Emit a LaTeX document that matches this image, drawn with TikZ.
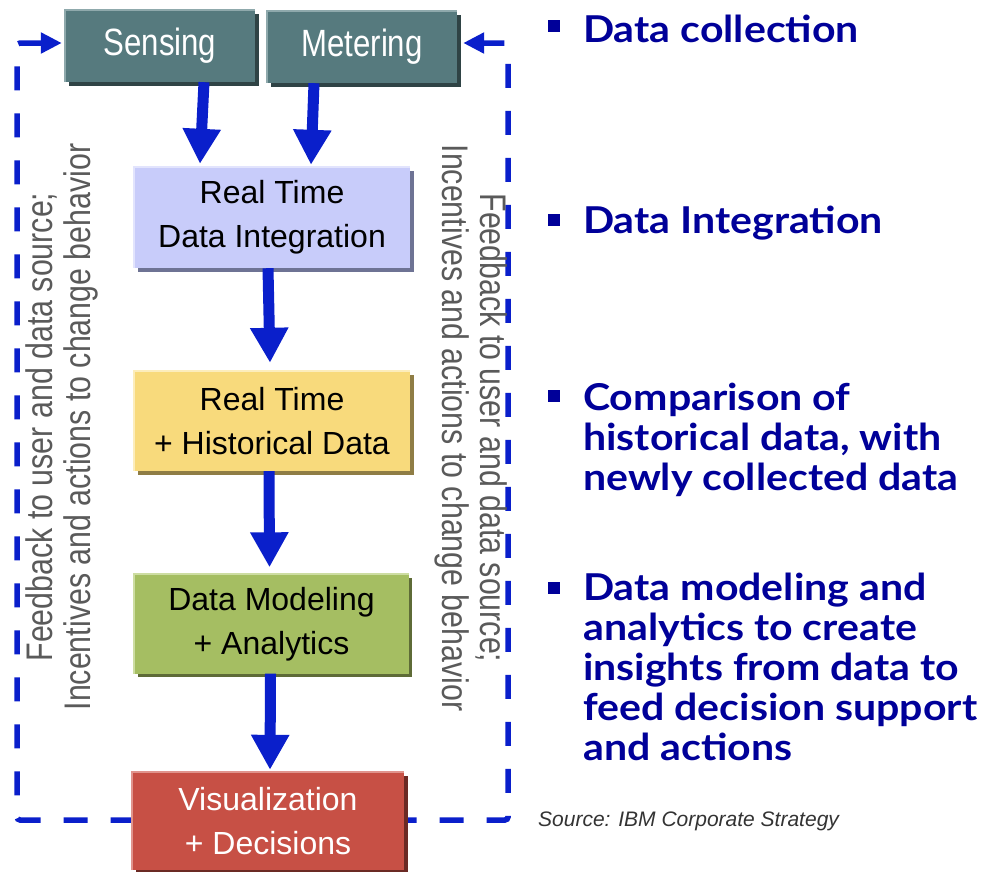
\documentclass[tikz,border=0pt]{standalone}
\usepackage{fontspec}
\setmainfont{Liberation Sans}
\newfontfamily\narrowfont[FakeStretch=0.82]{Liberation Sans}
\newfontfamily\bulfont[FakeStretch=1.11]{Lato}
\usetikzlibrary{arrows.meta}
\pgfdeclarelayer{background}
\pgfsetlayers{background,main}
\definecolor{arrowblue}{HTML}{0A1FCB}
\definecolor{tealcol}{HTML}{567A7E}
\definecolor{tealsh}{HTML}{2F4345}
\definecolor{tealhl}{HTML}{8FA9AC}
\definecolor{intcol}{HTML}{C8CCFA}
\definecolor{intsh}{HTML}{6E7394}
\definecolor{inthl}{HTML}{E2E4FD}
\definecolor{histcol}{HTML}{F8DA7C}
\definecolor{histsh}{HTML}{8F7D45}
\definecolor{histhl}{HTML}{FCEDBC}
\definecolor{modcol}{HTML}{A5BE62}
\definecolor{modsh}{HTML}{5E6B37}
\definecolor{modhl}{HTML}{CDDDA2}
\definecolor{viscol}{HTML}{C75045}
\definecolor{vissh}{HTML}{6B2A24}
\definecolor{vishl}{HTML}{E0948D}
\definecolor{rotgray}{HTML}{5A5A5A}
\definecolor{bulblue}{HTML}{000099}
\definecolor{srcgray}{HTML}{333333}
\tikzset{
  flowbox/.style 2 args={fill=#1, inner sep=0pt, align=center,
    preaction={fill=#2, transform canvas={xshift=3.5pt,yshift=-3.5pt}}},
  tealbox/.style={flowbox={tealcol}{tealsh}, minimum width=190pt, minimum height=72pt,
    text=white, font=\narrowfont\fontsize{38}{44}\selectfont},
  lowbox/.style={minimum width=276pt, minimum height=100pt,
    font=\fontsize{32}{44}\selectfont},
  hledge/.style={draw=#1, line width=2pt},
  bigarrow/.style={draw=arrowblue, line width=11pt, -{Triangle[length=35pt,width=36pt]}},
  fbdash/.style={draw=arrowblue, line width=5.5pt, dash pattern=on 24pt off 23pt,
    {Triangle[length=21pt,width=20pt]}-{Triangle[length=21pt,width=20pt]}},
  rottext/.style={text=rotgray, align=center, inner sep=0pt,
    font=\narrowfont\fontsize{37}{38}\selectfont},
  bsq/.style={fill=bulblue, minimum size=12pt, inner sep=0pt},
  btext/.style={anchor=base west, inner sep=0pt, text=bulblue,
    font=\bulfont\bfseries\fontsize{37}{40}\selectfont},
}
\begin{document}
\begin{tikzpicture}[x=1pt,y=-1pt]
\useasboundingbox (0,0) rectangle (982,871);
% flow boxes
\node[tealbox] (sens) at (160,46) {Sensing};
\node[tealbox] (meter) at (362,47) {Metering};
\node[flowbox={intcol}{intsh}, lowbox, minimum height=101pt] (integ) at (272,217.5) {Real Time\\Data Integration};
\node[flowbox={histcol}{histsh}, lowbox] (hist) at (272,421) {Real Time\\+ Historical Data};
\node[flowbox={modcol}{modsh}, lowbox, minimum width=274pt, minimum height=99pt] (model) at (271.5,624) {Data Modeling\\+ Analytics};
\node[flowbox={viscol}{vissh}, lowbox, minimum width=272pt, minimum height=98pt, text=white] (vis) at (268,821) {Visualization\\+ Decisions};
% highlight edges
\draw[hledge=tealhl] (sens.south west) -- (sens.north west) -- (sens.north east);
\draw[hledge=tealhl] (meter.south west) -- (meter.north west) -- (meter.north east);
\draw[hledge=inthl] (integ.south west) -- (integ.north west) -- (integ.north east);
\draw[hledge=histhl] (hist.south west) -- (hist.north west) -- (hist.north east);
\draw[hledge=modhl] (model.south west) -- (model.north west) -- (model.north east);
\draw[hledge=vishl] (vis.south west) -- (vis.north west) -- (vis.north east);
% flow arrows
\draw[bigarrow] ([xshift=44pt]sens.south) -- ([xshift=-72pt,yshift=3pt]integ.north);
\draw[bigarrow] ([xshift=-48pt]meter.south) -- ([xshift=39pt,yshift=2pt]integ.north);
\draw[bigarrow] ([xshift=-4pt]integ.south) -- ([xshift=-2pt,yshift=8pt]hist.north);
\draw[bigarrow] ([xshift=-3pt]hist.south) -- ([xshift=-2pt,yshift=7pt]model.north);
\draw[bigarrow] ([xshift=-1pt]model.south) -- ([xshift=2pt,yshift=2pt]vis.north);
% feedback loop
\coordinate (c1) at (17,43);
\coordinate (c2) at (17,820);
\coordinate (c3) at (508,820);
\coordinate (c4) at (508,43);
\begin{pgfonlayer}{background}
\draw[fbdash, rounded corners=3pt, shorten <=3pt, shorten >=6pt]
  (c1 -| sens.west) -- (c1) -- (c2) -- (c3) -- (c4) -- (c4 -| meter.east);
\end{pgfonlayer}
% rotated labels
\node[rottext, rotate=90] (fbl) at (62,427) {Feedback to user and data source;\\Incentives and actions to change behavior};
\node[rottext, rotate=-90] (fbr) at (471,428) {Feedback to user and data source;\\Incentives and actions to change behavior};
% bullets
\node[bsq] (b1) at (554,26) {};
\node[btext] (t1) at (583,42) {Data collection};
\node[bsq] (b2) at (554,219.5) {};
\node[btext] (t2) at (583,233) {Data Integration};
\node[bsq] (b3) at (554,396) {};
\node[btext] (t3) at (583,410) {\begin{tabular}[t]{@{}l@{}}Comparison of\\historical data, with\\newly collected data\end{tabular}};
\node[bsq] (b4) at (554,587.5) {};
\node[btext] (t4) at (583,600) {\begin{tabular}[t]{@{}l@{}}Data modeling and\\analytics to create\\insights from data to\\feed decision support\\and actions\end{tabular}};
% source
\node[anchor=base west, inner sep=0pt, text=srcgray, font=\itshape\fontsize{21}{24}\selectfont] (src) at (538,826) {Source: IBM Corporate Strategy};
\end{tikzpicture}
\end{document}
